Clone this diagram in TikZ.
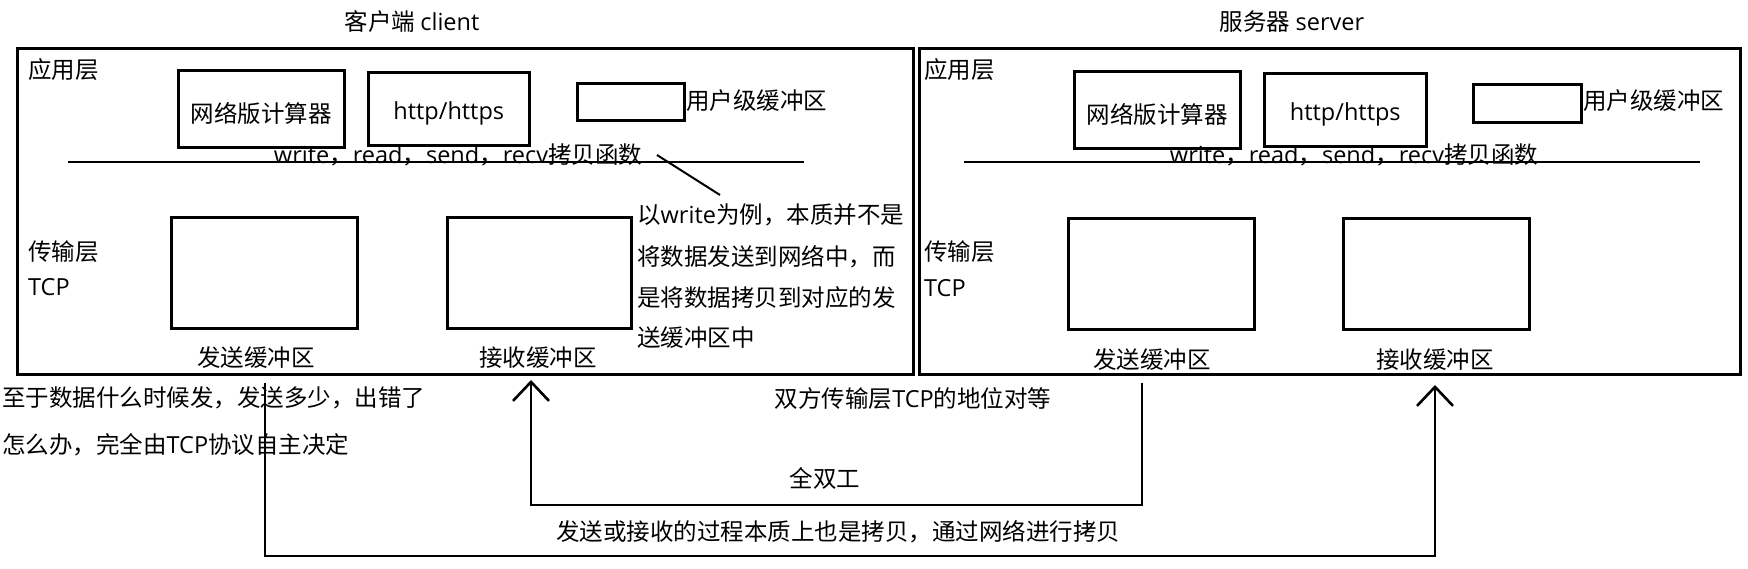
\documentclass[tikz,border=0pt]{standalone}
\usepackage{fontspec}
\setmainfont{Noto Sans CJK SC}
\newfontfamily\lat{Open Sans}
\usetikzlibrary{arrows.meta}
\begin{document}
\begin{tikzpicture}[x=1pt,y=-1pt,
  every node/.style={font=\fontsize{23.5pt}{28pt}\selectfont, inner sep=0pt},
  outerbox/.style={draw, line width=3pt},
  bufbox/.style={draw, line width=2.6pt, anchor=north west, inner sep=0pt},
  txt/.style={anchor=west},
  conn/.style={line width=2.6pt},
  arr/.style={line width=2.6pt, -{Straight Barb[length=19pt,width=36pt,line width=2.6pt]}}
]
\useasboundingbox (0,0) rectangle (1748,568);
\fill[white] (0,0) rectangle (1748,568);

% titles
\node (titleC) at (412,22) {客户端 {\lat client}};
\node (titleS) at (1292,22) {服务器 {\lat server}};

% outer boxes
\draw[outerbox] (17,48) rectangle (913,374);
\draw[outerbox] (919,48) rectangle (1740,374);

% ---------- client ----------
\node[txt] (appC) at (28,70) {应用层};
\node[bufbox, minimum width=166pt, minimum height=77pt] (calcC) at (177,69) {};
\node at ([yshift=-4.5pt]calcC.center) {网络版计算器};
\node[bufbox, minimum width=161pt, minimum height=73pt] (httpC) at (367,71) {};
\node at ([yshift=-4.5pt]httpC.center) {\lat http/https};
\node[bufbox, minimum width=107pt, minimum height=37pt] (ubufC) at (576,82) {};
\node[txt] (ubufCl) at (686,101) {用户级缓冲区};
\draw[conn] (68,162) coordinate (lineCa) -- (804,162) coordinate (lineCb);
\node (writeC) at (458,155) {{\lat write}，{\lat read}，{\lat send}，{\lat recv}拷贝函数};

\node[txt] (tranC) at (28,252) {传输层};
\node[txt] (tcpC) at (28,287) {\lat TCP};
\node[bufbox, minimum width=186pt, minimum height=111pt] (sendC) at (170,216) {};
\node (sendCl) at (256,358) {发送缓冲区};
\node[bufbox, minimum width=184pt, minimum height=111pt] (recvC) at (446,216) {};
\node (recvCl) at (538,358) {接收缓冲区};

% annotation
\node[txt] (note1) at (637,215) {以{\lat write}为例，本质并不是};
\node[txt] (note2) at (637,257) {将数据发送到网络中，而};
\node[txt] (note3) at (637,298) {是将数据拷贝到对应的发};
\node[txt] (note4) at (637,338) {送缓冲区中};
\coordinate (pa) at (657,155);
\coordinate (pb) at (720,195);
\draw[line width=2pt] (pa) -- (pb);

% ---------- server ----------
\node[txt] (appS) at (924,70) {应用层};
\node[bufbox, minimum width=166pt, minimum height=77pt] (calcS) at (1073,70) {};
\node at ([yshift=-4.5pt]calcS.center) {网络版计算器};
\node[bufbox, minimum width=162pt, minimum height=73pt] (httpS) at (1263,72) {};
\node at ([yshift=-4.5pt]httpS.center) {\lat http/https};
\node[bufbox, minimum width=108pt, minimum height=38pt] (ubufS) at (1472,83) {};
\node[txt] (ubufSl) at (1583,101) {用户级缓冲区};
\draw[conn] (964,162) coordinate (lineSa) -- (1700,162) coordinate (lineSb);
\node (writeS) at (1354,155) {{\lat write}，{\lat read}，{\lat send}，{\lat recv}拷贝函数};

\node[txt] (tranS) at (924,252) {传输层};
\node[txt] (tcpS) at (924,288) {\lat TCP};
\node[bufbox, minimum width=186pt, minimum height=111pt] (sendS) at (1067,217) {};
\node (sendSl) at (1152,360) {发送缓冲区};
\node[bufbox, minimum width=186pt, minimum height=111pt] (recvS) at (1342,217) {};
\node (recvSl) at (1435,360) {接收缓冲区};

% ---------- bottom texts ----------
\node[txt] (why1) at (2,398) {至于数据什么时候发，发送多少，出错了};
\node[txt] (why2) at (2,445) {怎么办，完全由{\lat TCP}协议自主决定};
\node (peer) at (913,399) {双方传输层{\lat TCP}的地位对等};
\node (duplex) at (825,478) {全双工};
\node (copy) at (838,532) {发送或接收的过程本质上也是拷贝，通过网络进行拷贝};

% ---------- connectors ----------
\coordinate (s1) at (1142,383);
\coordinate (e1) at (531,380);
\draw[arr] (s1) |- (531,505) -- (e1);
\coordinate (s2) at (265,383);
\coordinate (e2) at (1435,385);
\draw[arr] (s2) |- (1435,556) -- (e2);
\end{tikzpicture}
\end{document}
